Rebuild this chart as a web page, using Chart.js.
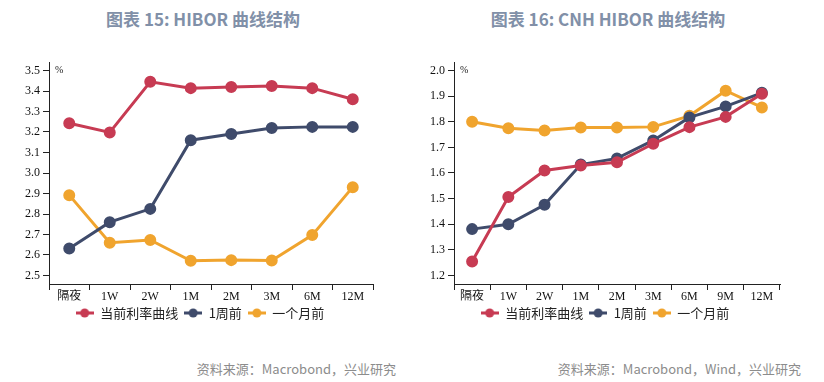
<!DOCTYPE html>
<html><head><meta charset="utf-8">
<script src="https://cdn.jsdelivr.net/npm/chart.js@4/dist/chart.umd.min.js"></script>
<style>
html,body{margin:0;padding:0;background:#fff;}
body{width:824px;height:382px;position:relative;overflow:hidden;}
.title{position:absolute;top:6px;font-family:"Noto Sans CJK SC","Noto Sans",sans-serif;font-weight:bold;font-size:17px;color:#8190a8;white-space:nowrap;transform:translateX(-50%);}
.src{position:absolute;top:359px;font-family:"Noto Sans CJK SC","Noto Sans",sans-serif;font-size:13px;color:#8c8c8c;white-space:nowrap;}
canvas{position:absolute;top:0;}
</style></head>
<body>
<div class="title" style="left:203px">图表 15: HIBOR 曲线结构</div>
<div class="title" style="left:608px">图表 16: CNH HIBOR 曲线结构</div>
<div class="src" style="right:428px">资料来源：Macrobond，兴业研究</div>
<div class="src" style="right:23px">资料来源：Macrobond，Wind，兴业研究</div>
<div id="w1" style="position:absolute;left:0;top:0;width:412px;height:340px"><canvas id="c1"></canvas></div>
<div id="w2" style="position:absolute;left:412px;top:0;width:412px;height:340px"><canvas id="c2"></canvas></div>
<script>
const seriesNames = ['当前利率曲线', '1周前', '一个月前'];
const colors = ['#c73b53', '#3f4b6b', '#f0a42e'];

const hiborLabels = ['隔夜', '1W', '2W', '1M', '2M', '3M', '6M', '12M'];
const hiborNow = [3.243, 3.198, 3.445, 3.414, 3.420, 3.424, 3.414, 3.360];
const hiborWeek = [2.632, 2.760, 2.825, 3.160, 3.190, 3.220, 3.225, 3.225];
const hiborMonth = [2.892, 2.660, 2.673, 2.572, 2.575, 2.573, 2.697, 2.931];
const hiborTicks = [2.5, 2.6, 2.7, 2.8, 2.9, 3.0, 3.1, 3.2, 3.3, 3.4, 3.5];

const cnhLabels = ['隔夜', '1W', '2W', '1M', '2M', '3M', '6M', '9M', '12M'];
const cnhNow = [1.255, 1.506, 1.610, 1.629, 1.642, 1.714, 1.779, 1.819, 1.909];
const cnhWeek = [1.381, 1.400, 1.476, 1.633, 1.657, 1.727, 1.817, 1.860, 1.913];
const cnhMonth = [1.800, 1.775, 1.766, 1.778, 1.778, 1.780, 1.823, 1.921, 1.856];
const cnhTicks = [1.2, 1.3, 1.4, 1.5, 1.6, 1.7, 1.8, 1.9, 2.0];

const tickFont = {family: '"Liberation Serif","Noto Sans CJK SC",serif', size: 12};

function legendIcon(color) {
  const c = document.createElement('canvas');
  c.width = 18; c.height = 10;
  const x = c.getContext('2d');
  x.strokeStyle = color; x.lineWidth = 3;
  x.beginPath(); x.moveTo(0, 5); x.lineTo(18, 5); x.stroke();
  x.fillStyle = color; x.beginPath(); x.arc(9, 5, 4.5, 0, Math.PI * 2); x.fill();
  return c;
}

function makeChart(id, labels, data, ticks, yWidth, padR, legendCenter) {
  const tmin = ticks[0], tmax = ticks[ticks.length - 1];
  const span = tmax - tmin;
  const plotH = 222;
  const tickPx = plotH - 17;
  const extra = 8.5 / tickPx * span;
  const nCat = labels.length;
  const pctPlugin = {
    id: 'pct',
    afterDraw(chart) {
      const ctx = chart.ctx;
      ctx.save();
      ctx.font = '10px "Liberation Serif",serif';
      ctx.fillStyle = '#222';
      ctx.textBaseline = 'middle';
      ctx.fillText('%', chart.chartArea.left + 6, chart.chartArea.top + 8);
      ctx.restore();
    }
  };
  const legendShift = {
    id: 'legendShift',
    afterLayout(chart) {
      const lg = chart.legend;
      const dx = legendCenter - (lg.left + lg.right) / 2;
      lg.left += dx; lg.right += dx;
    }
  };
  return new Chart(document.getElementById(id), {
    type: 'line',
    data: {
      labels: labels,
      datasets: data.map((d, i) => ({
        label: seriesNames[i],
        data: d,
        borderColor: colors[i],
        backgroundColor: colors[i],
        pointBackgroundColor: colors[i],
        pointBorderColor: colors[i],
        borderWidth: 3,
        pointRadius: 4.5,
        pointHoverRadius: 4.5,
        pointStyle: 'circle',
        tension: 0
      }))
    },
    options: {
      responsive: true,
      maintainAspectRatio: false,
      animation: false,
      events: [],
      layout: {padding: {top: 62, left: 0, right: padR, bottom: 10.5}},
      scales: {
        x: {
          type: 'category',
          offset: true,
          afterFit(s) { s.height = 16.5; },
          grid: {
            offset: true,
            drawOnChartArea: false,
            drawTicks: true,
            tickLength: 6,
            color: c => (c.index === nCat ? 'rgba(0,0,0,0)' : '#222')
          },
          border: {display: true, color: '#222', width: 1},
          ticks: {color: '#111', font: tickFont, padding: 0, maxRotation: 0, autoSkip: false}
        },
        y: {
          min: tmin - extra,
          max: tmax + extra,
          afterFit(s) { s.width = yWidth; },
          afterBuildTicks(s) { s.ticks = ticks.map(v => ({value: v})); },
          grid: {drawOnChartArea: false, drawTicks: true, tickLength: 6, color: '#222'},
          border: {display: true, color: '#222', width: 1},
          ticks: {color: '#111', font: tickFont, padding: 3, callback: v => Number(v).toFixed(1)}
        }
      },
      plugins: {
        tooltip: {enabled: false},
        title: {display: false},
        legend: {
          display: true,
          position: 'bottom',
          labels: {
            usePointStyle: true,
            pointStyleWidth: 18,
            padding: 6,
            color: '#222',
            font: {family: '"Noto Sans CJK SC",sans-serif', size: 13},
            generateLabels(chart) {
              return chart.data.datasets.map((ds, i) => ({
                text: ds.label,
                fillStyle: ds.borderColor,
                strokeStyle: ds.borderColor,
                lineWidth: 0,
                pointStyle: legendIcon(ds.borderColor),
                fontColor: '#222',
                hidden: false,
                datasetIndex: i
              }));
            }
          }
        }
      }
    },
    plugins: [pctPlugin, legendShift]
  });
}

makeChart('c1', hiborLabels, [hiborNow, hiborWeek, hiborMonth], hiborTicks, 49, 39, 200);
makeChart('c2', cnhLabels, [cnhNow, cnhWeek, cnhMonth], cnhTicks, 42, 44, 193);
</script>
</body></html>
